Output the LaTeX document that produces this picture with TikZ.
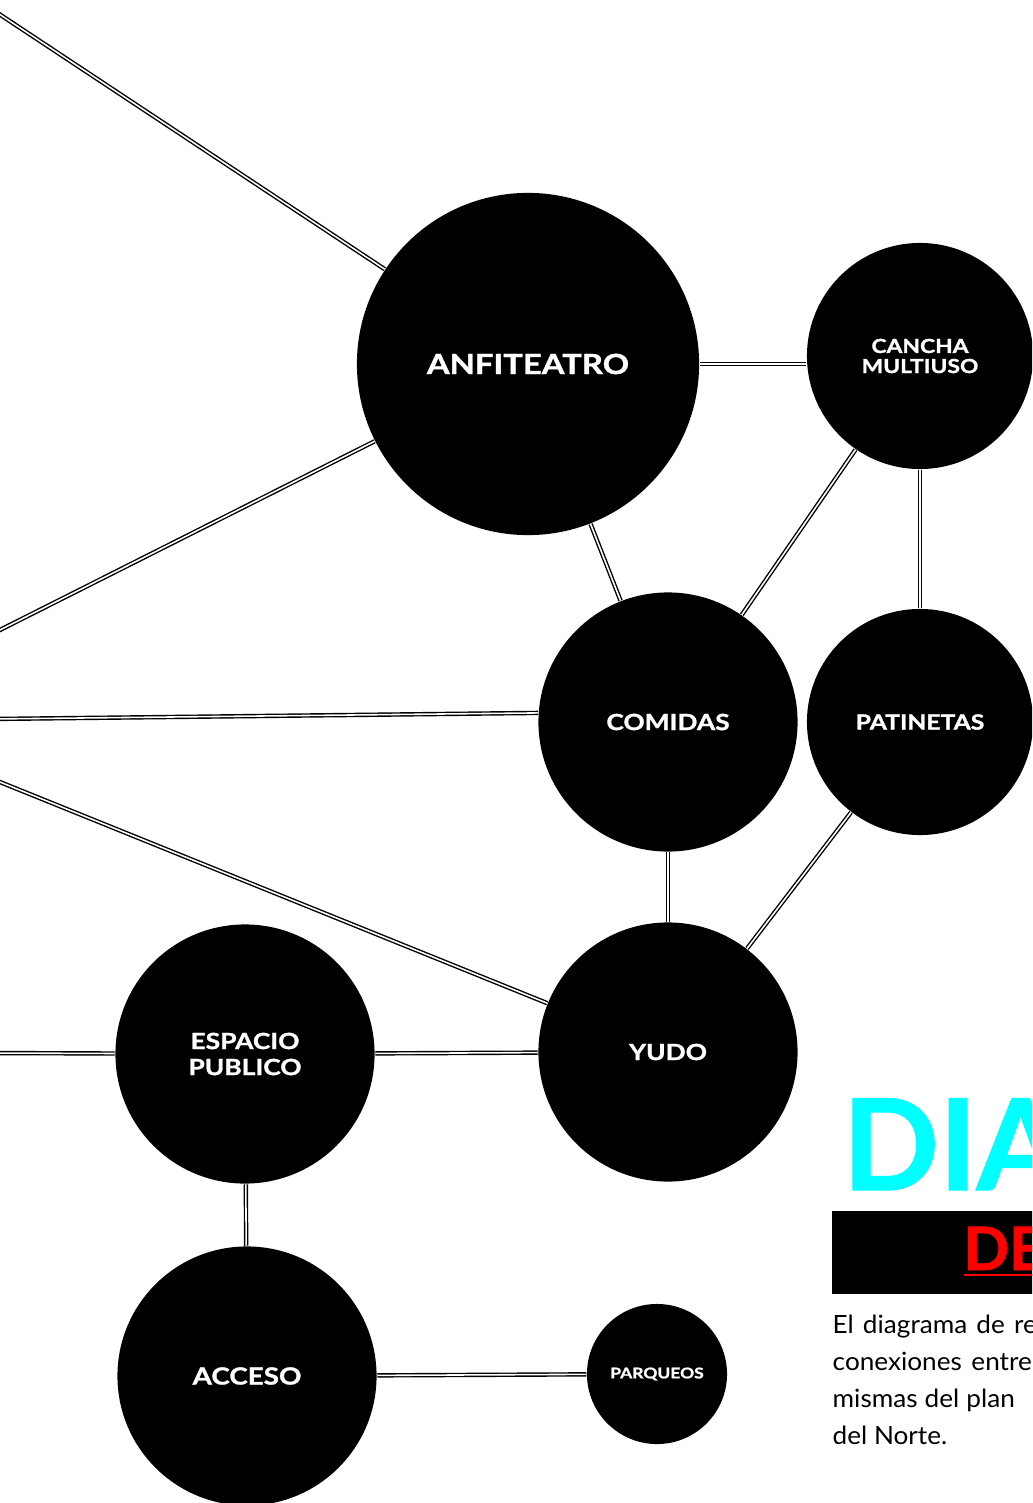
\documentclass[tikz,border=0pt]{standalone}
\usepackage{fontspec}
\setmainfont{Lato}
\newfontfamily\labelfont{Lato}[FakeStretch=1.18, BoldFeatures={FakeBold=1.3}]
\newfontfamily\titlefont{Lato}[BoldFeatures={FakeBold=1}]
\newfontfamily\bodyfont{Lato}[FakeStretch=1.04]
\newcommand{\zonefont}[2]{\labelfont\bfseries\fontsize{#1}{#2}\selectfont}
\definecolor{titlecyan}{HTML}{00FFFF}
\definecolor{titlered}{HTML}{FF0000}

\begin{document}
\begin{tikzpicture}[x=0.01cm, y=-0.01cm,
  zone/.style={circle, fill=black, text=white, inner sep=0pt, align=center},
  link/.style={draw=black, line width=0.4pt, double=white, double distance=0.45pt},
  caption/.style={anchor=base west, inner sep=0pt}]
  \useasboundingbox (0,0) rectangle (1032,1503);
  \clip (0,0) rectangle (1032,1503);

  % Zones
  \node[zone, minimum size=3.42cm, font=\zonefont{7.9}{9}] (anfiteatro) at (528,364) {ANFITEATRO};
  \node[zone, minimum size=2.26cm, font=\zonefont{5.5}{5.7}] (cancha) at (920,356) {CANCHA\\MULTIUSO};
  \node[zone, minimum size=2.59cm, font=\zonefont{6.35}{7.4}] (comidas) at (668,722) {COMIDAS};
  \node[zone, minimum size=2.26cm, font=\zonefont{5.95}{7}] (patinetas) at (920,722) {PATINETAS};
  \node[zone, minimum size=2.59cm, font=\zonefont{6.35}{7.4}] (yudo) at (668,1052) {YUDO};
  \node[zone, minimum size=2.59cm, font=\zonefont{6.35}{7.4}] (espacio) at (245,1054) {ESPACIO\\PUBLICO};
  \node[zone, minimum size=2.59cm, font=\zonefont{6.7}{7.4}] (acceso) at (247,1376) {ACCESO};
  \node[zone, minimum size=1.40cm, font=\zonefont{4.2}{5}] (parqueos) at (657,1374) {PARQUEOS};

  % Free ends beyond the left edge
  \coordinate (edgeA) at (-10,8);
  \coordinate (edgeB) at (-10,635);
  \coordinate (edgeC) at (-10,719);
  \coordinate (edgeD) at (-10,778);
  \coordinate (edgeE) at (-10,1053);

  % Links
  \draw[link] (edgeA) -- (anfiteatro);
  \draw[link] (edgeB) -- (anfiteatro);
  \draw[link] (anfiteatro.east) -- (anfiteatro.east -| cancha.west);
  \draw[link] (anfiteatro) -- (comidas);
  \draw[link] (cancha) -- (comidas);
  \draw[link] (cancha) -- (patinetas);
  \draw[link] (edgeC) -- (comidas.176);
  \draw[link] (edgeD) -- (yudo);
  \draw[link] (comidas) -- (yudo);
  \draw[link] (patinetas) -- (yudo);
  \draw[link] (edgeE) -- (espacio);
  \draw[link] (espacio) -- (yudo);
  \draw[link] (espacio) -- (acceso);
  \draw[link] (acceso) -- (parqueos);

  % Title block
  \node[caption, text=titlecyan, font=\titlefont\bfseries\fontsize{36}{36}\selectfont] (title) at (842,1190) {DIA};
  \fill (832,1211) rectangle (1040,1294);
  \node[caption, text=titlered, font=\titlefont\bfseries\fontsize{17}{17}\selectfont] (subtitle) at (963,1270) {\underline{DE}};

  % Text (base is the last line)
  \node[caption, align=left, font=\bodyfont\fontsize{7.15}{10.5}\selectfont] (text) at (832,1444)
    {\makebox[2.04cm][s]{El diagrama de re}\\\makebox[1.99cm][s]{conexiones entre}\\\makebox[1.82cm][s]{mismas del plan}\\del Norte.};
\end{tikzpicture}
\end{document}
